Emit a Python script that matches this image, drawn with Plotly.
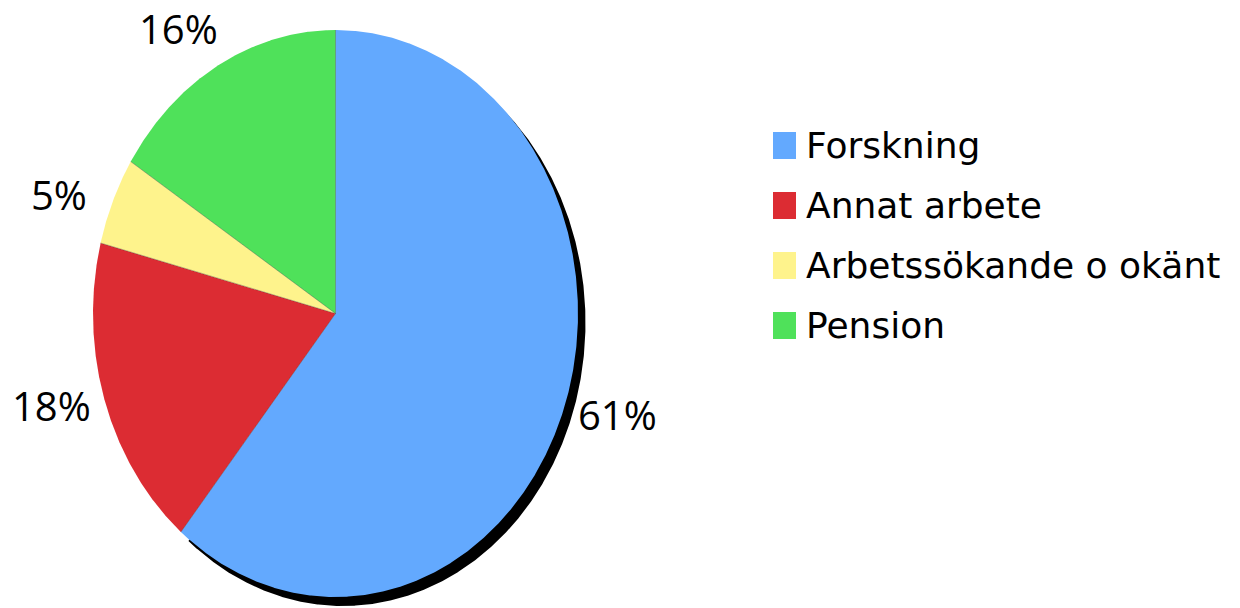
import numpy as np
import plotly.graph_objects as go

# ---- data ----
categories = ["Forskning", "Annat arbete", "Arbetssökande o okänt", "Pension"]
values = [61, 18, 5, 16]
pct_labels = ["61%", "18%", "5%", "16%"]
colors = ["#63A9FE", "#DC2C33", "#FEF38C", "#4FE15A"]

# ---- layout constants (pixel space) ----
W, H = 1240, 608
CX, CY, RX, RY = 335.5, 313.5, 242.5, 283.5
SHADOW_DX, SHADOW_DY = 7.5, 9
LABEL_GAP = 53
LEG_X, LEG_Y0, LEG_STEP, LEG_SQ_W, LEG_SQ_H = 773, 132, 60, 23, 27

total = float(sum(values))
fracs = np.array(values, dtype=float) / total
starts = np.concatenate([[0.0], np.cumsum(fracs)[:-1]])
ends = starts + fracs


def wedge(f0, f1, dx=0.0, dy=0.0):
    n = max(int((f1 - f0) * 1440), 16)
    t = np.linspace(f0, f1, n) * 2 * np.pi
    xs = CX + dx + RX * np.sin(t)
    ys = CY + dy - RY * np.cos(t)
    return (np.concatenate([[CX + dx], xs, [CX + dx]]),
            np.concatenate([[CY + dy], ys, [CY + dy]]))


fig = go.Figure()

# shadow behind the largest slice
sx, sy = wedge(starts[0], ends[0], SHADOW_DX, SHADOW_DY)
fig.add_trace(go.Scatter(x=sx, y=sy, mode="lines", fill="toself",
                         fillcolor="black", line=dict(width=0, color="black"),
                         hoverinfo="skip", showlegend=False))

for cat, f0, f1, col in zip(categories, starts, ends, colors):
    wx, wy = wedge(f0, f1)
    fig.add_trace(go.Scatter(x=wx, y=wy, mode="lines", fill="toself",
                             fillcolor=col, line=dict(width=0, color=col),
                             name=cat, hoverinfo="name", showlegend=False))

# thin radial separators
for f in starts:
    t = f * 2 * np.pi
    fig.add_trace(go.Scatter(x=[CX, CX + RX * np.sin(t)], y=[CY, CY - RY * np.cos(t)],
                             mode="lines", line=dict(width=0.6, color="rgba(40,40,40,0.55)"),
                             hoverinfo="skip", showlegend=False))

annotations = []
# percentage labels outside the slices, along the mid-angle direction
for lab, f0, f1 in zip(pct_labels, starts, ends):
    t = (f0 + f1) / 2 * 2 * np.pi
    s, c = np.sin(t), np.cos(t)
    r = 1.0 / np.sqrt((s / RX) ** 2 + (c / RY) ** 2)
    d = r + LABEL_GAP
    annotations.append(dict(x=CX + d * s, y=CY - d * c, xref="x", yref="y", text=lab,
                            showarrow=False, xanchor="center", yanchor="middle",
                            font=dict(family="Open Sans", size=40, color="black")))

# custom legend
shapes = []
for i, (cat, col) in enumerate(zip(categories, colors)):
    y0 = LEG_Y0 + i * LEG_STEP
    shapes.append(dict(type="rect", xref="x", yref="y", x0=LEG_X, x1=LEG_X + LEG_SQ_W,
                       y0=y0, y1=y0 + LEG_SQ_H, fillcolor=col, line=dict(width=0)))
    annotations.append(dict(x=LEG_X + LEG_SQ_W + 8, y=y0 + LEG_SQ_H / 2, xref="x", yref="y",
                            text=cat, showarrow=False, xanchor="left", yanchor="middle",
                            font=dict(family="DejaVu Sans", size=36, color="black")))

fig.update_layout(
    width=W, height=H, margin=dict(l=0, r=0, t=0, b=0),
    paper_bgcolor="white", plot_bgcolor="white",
    xaxis=dict(range=[0, W], visible=False, fixedrange=True),
    yaxis=dict(range=[H, 0], visible=False, fixedrange=True),
    annotations=annotations, shapes=shapes, showlegend=False,
)

fig.write_html("out.html")
